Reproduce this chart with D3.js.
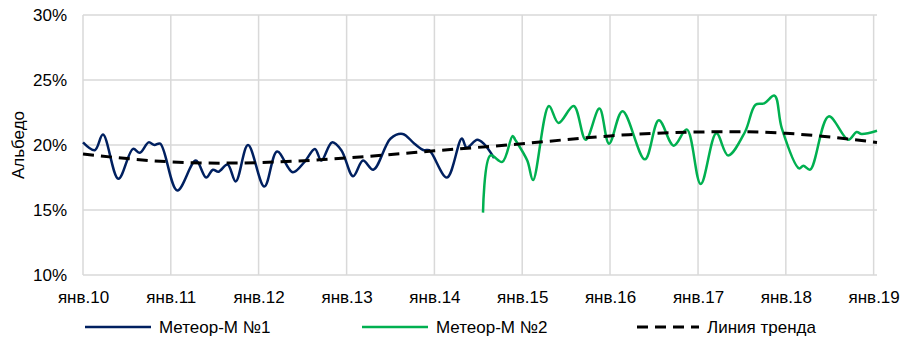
<!DOCTYPE html>
<html>
<head>
<meta charset="utf-8">
<script src="https://cdn.jsdelivr.net/npm/d3@7"></script>
<style>
  body { margin: 0; background: #fff; }
  svg text { font-family: "Liberation Sans", Arial, sans-serif; fill: #000; }
</style>
</head>
<body>
<div id="chart"></div>
<script>
// Метеор-М №1
var m1Dates = ["2010-01-01","2010-02-19","2010-03-25","2010-05-28","2010-07-28","2010-08-25","2010-10-01","2010-10-25","2010-11-18",
  "2011-01-28","2011-04-15","2011-05-28","2011-06-25","2011-07-18","2011-08-25","2011-09-28","2011-11-18",
  "2012-01-25","2012-03-18","2012-05-22","2012-07-10","2012-08-22","2012-09-18","2012-11-01","2012-12-10",
  "2013-01-28","2013-03-10","2013-04-22","2013-07-03","2013-08-22","2013-10-10","2013-11-18","2013-12-10",
  "2014-02-22","2014-04-25","2014-05-15","2014-06-28","2014-07-25","2014-09-06"];
var m1Values = [20.2,19.6,20.8,17.4,19.7,19.4,20.2,20.0,20.1,
  16.5,18.8,17.5,18.1,17.95,18.5,17.2,20.0,
  16.8,19.5,17.9,18.7,19.7,18.8,20.2,19.6,
  17.6,18.8,18.1,20.5,20.85,20.1,19.6,19.6,
  17.5,20.5,19.8,20.4,20.1,19.0];

// Метеор-М №2
var m2Dates = ["2014-07-22","2014-08-22","2014-10-10","2014-11-22","2014-12-03",
  "2015-01-22","2015-02-15","2015-04-22","2015-06-01","2015-08-03","2015-09-22","2015-11-18","2015-12-28",
  "2016-02-22","2016-05-25","2016-07-22","2016-09-22","2016-11-15",
  "2017-01-12","2017-03-18","2017-05-06","2017-07-15","2017-08-28","2017-10-03","2017-11-15","2017-12-15",
  "2018-02-25","2018-03-15","2018-04-12","2018-06-28","2018-09-18","2018-10-22","2018-11-12","2019-01-15"];
var m2Values = [14.8,19.2,18.7,20.7,20.4,
  18.8,17.3,23.0,21.7,23.0,20.4,22.8,20.1,
  22.6,18.9,21.9,19.95,21.2,
  17.0,20.9,19.2,21.0,23.1,23.2,23.8,21.3,
  18.2,18.4,18.1,22.2,20.4,21.0,20.85,21.1];

// Линия тренда
var trendDates = ["2010-01-01","2011-01-01","2012-01-01","2013-01-01","2014-01-01","2015-01-01","2016-01-01","2017-01-01","2018-01-01","2019-01-15"];
var trendValues = [19.3,18.7,18.65,19.0,19.55,20.1,20.7,21.0,20.9,20.2];

var yTicks = [10,15,20,25,30];
var xTickYears = [2010,2011,2012,2013,2014,2015,2016,2017,2018,2019];

function Chart() {
  var W = 903, H = 337;
  var margin = {top: 15, right: 26, bottom: 62, left: 83};
  var w = W - margin.left - margin.right;
  var h = H - margin.top - margin.bottom;
  var parse = d3.timeParse("%Y-%m-%d");
  var fs = "17px";

  var toPoints = function (dates, vals) {
    return dates.map((d, i) => ({date: parse(d), value: vals[i]}));
  };
  var s1 = toPoints(m1Dates, m1Values);
  var s2 = toPoints(m2Dates, m2Values);
  var tr = toPoints(trendDates, trendValues);

  var svg = d3.select("#chart")
    .append("svg")
    .attr("width", W)
    .attr("height", H);

  var g = svg.append("g")
    .attr("transform", "translate(" + margin.left + "," + margin.top + ")");

  var xScale = d3.scaleTime()
    .domain([parse("2010-01-01"), parse("2019-01-15")])
    .range([0, w]);

  var yScale = d3.scaleLinear()
    .domain([10, 30])
    .range([h, 0]);

  // grid
  g.append("g").selectAll("line.h")
    .data(yTicks)
    .enter().append("line")
    .attr("x1", 0).attr("x2", w)
    .attr("y1", (d) => yScale(d)).attr("y2", (d) => yScale(d))
    .attr("stroke", "#d9d9d9").attr("stroke-width", 1.5);

  g.append("g").selectAll("line.v")
    .data(xTickYears)
    .enter().append("line")
    .attr("x1", (d) => xScale(new Date(d, 0, 1))).attr("x2", (d) => xScale(new Date(d, 0, 1)))
    .attr("y1", 0).attr("y2", h)
    .attr("stroke", "#d9d9d9").attr("stroke-width", 1.5);

  // axes
  var xAxis = d3.axisBottom(xScale)
    .tickValues(xTickYears.map((y) => new Date(y, 0, 1)))
    .tickFormat((d) => "янв." + d3.timeFormat("%y")(d))
    .tickSize(0)
    .tickPadding(16);

  var yAxis = d3.axisLeft(yScale)
    .tickValues(yTicks)
    .tickFormat((d) => d + "%")
    .tickSize(0)
    .tickPadding(16);

  var gx = g.append("g")
    .attr("transform", "translate(0," + h + ")")
    .call(xAxis);
  gx.select(".domain").remove();
  gx.selectAll("text").style("font-size", fs).style("font-family", "'Liberation Sans', Arial, sans-serif");

  var gy = g.append("g").call(yAxis);
  gy.select(".domain").remove();
  gy.selectAll("text").style("font-size", fs).style("font-family", "'Liberation Sans', Arial, sans-serif");

  // Альбедо label
  svg.append("text")
    .attr("text-anchor", "middle")
    .attr("transform", "translate(18," + (margin.top + yScale(20)) + ") rotate(-90)")
    .attr("dy", "0.35em")
    .style("font-size", fs)
    .text("Альбедо");

  var line = d3.line()
    .x((d) => xScale(d.date))
    .y((d) => yScale(d.value))
    .curve(d3.curveCatmullRom.alpha(0.5));

  g.append("path").datum(s1)
    .attr("d", line)
    .attr("fill", "none")
    .attr("stroke", "#002060")
    .attr("stroke-width", 2.5);

  g.append("path").datum(s2)
    .attr("d", line)
    .attr("fill", "none")
    .attr("stroke", "#00b050")
    .attr("stroke-width", 2.5);

  var trendLine = d3.line()
    .x((d) => xScale(d.date))
    .y((d) => yScale(d.value))
    .curve(d3.curveNatural);

  g.append("path").datum(tr)
    .attr("d", trendLine)
    .attr("fill", "none")
    .attr("stroke", "#000")
    .attr("stroke-width", 3)
    .attr("stroke-dasharray", "11,7");

  // legend
  var legend = [
    {name: "Метеор-М №1", color: "#002060", dash: null, x: 85, len: 66},
    {name: "Метеор-М №2", color: "#00b050", dash: null, x: 362, len: 66},
    {name: "Линия тренда", color: "#000", dash: "11,7", x: 637, len: 62}
  ];
  var lg = svg.append("g").attr("transform", "translate(0,327)");
  legend.forEach((l) => {
    lg.append("line")
      .attr("x1", l.x).attr("x2", l.x + l.len)
      .attr("y1", 0).attr("y2", 0)
      .attr("stroke", l.color)
      .attr("stroke-width", l.dash ? 3 : 2.5)
      .attr("stroke-dasharray", l.dash);
    lg.append("text")
      .attr("x", l.x + l.len + 8)
      .attr("dy", "0.35em")
      .style("font-size", fs)
      .text(l.name);
  });
}

window.onload = function () {
  Chart();
};
</script>
</body>
</html>
